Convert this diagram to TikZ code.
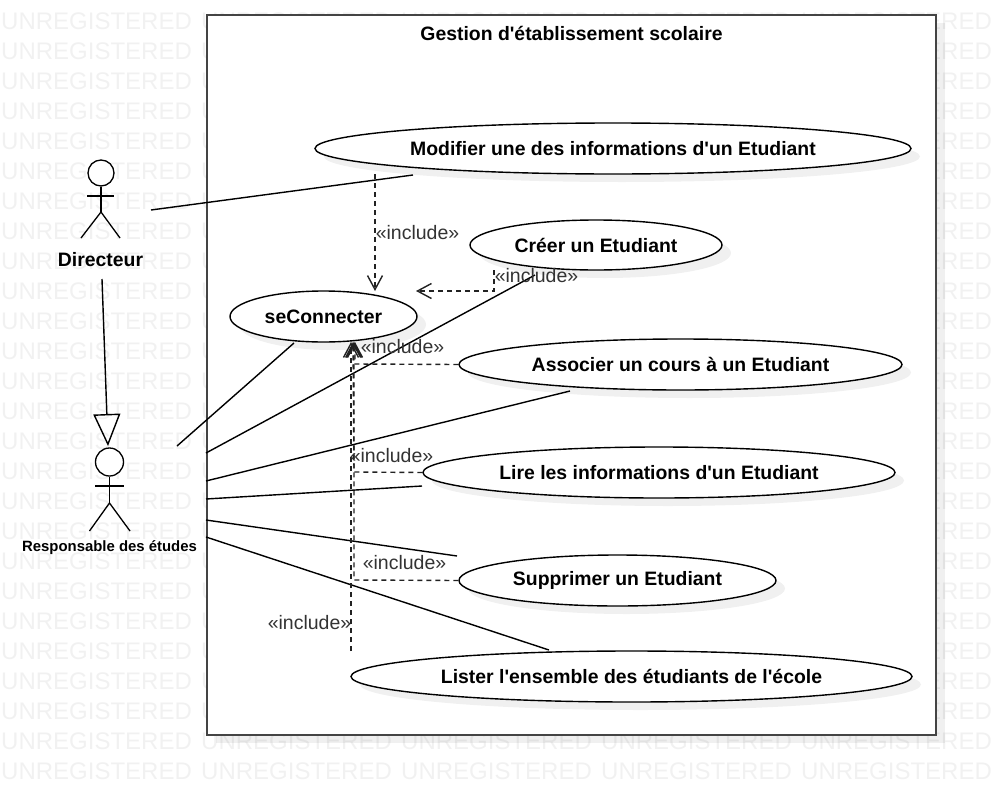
\documentclass[tikz,border=0pt]{standalone}
\usepackage{fontspec}
\setmainfont{Liberation Sans}
\newfontfamily\plainsans{Liberation Sans}
\usetikzlibrary{shapes.geometric,arrows.meta,shadows}
\definecolor{wm}{HTML}{F1F1F1}
\definecolor{framec}{HTML}{444444}
\definecolor{inc}{HTML}{333333}
\definecolor{dashc}{HTML}{222222}
\tikzset{
  x=1pt,y=-1pt,
  softshadow/.style={drop shadow={shadow xshift=9pt,shadow yshift=-8pt,fill=black,opacity=.06}},
  boldtxt/.style={font=\plainsans\fontsize{19.4}{21}\selectfont\bfseries},
  usecase/.style={ellipse,draw=black,line width=1.4pt,fill=white,inner sep=0pt,softshadow,boldtxt},
  assoc/.style={draw=black,line width=1.4pt},
  limb/.style={draw=black,line width=1.3pt},
  incl/.style={draw=dashc,line width=1.4pt,dash pattern=on 5pt off 4pt,-{Straight Barb[length=14pt,width=15pt,line width=1.4pt]}},
  incltxt/.style={font=\plainsans\fontsize{19.5}{21}\selectfont,text=inc,inner sep=0pt},
  wmtxt/.style={font=\plainsans\fontsize{24}{26}\selectfont,text=wm,inner sep=0pt,anchor=west},
}
\begin{document}
\begin{tikzpicture}
\useasboundingbox (0,0) rectangle (996,795);
% watermark
\foreach \r in {0,...,25}{
  \foreach \c in {0,...,4}{
    \node[wmtxt] (wm-\r-\c) at ({1+200*\c},{21+30*\r}) {UNREGISTERED};
  }
}
% system frame
\node[draw=framec,fill=white,line width=2pt,minimum width=729pt,minimum height=720pt,inner sep=0pt,softshadow] (sys) at (571.5,375) {};
\node[boldtxt,inner sep=0pt] (title) at (571.5,33.5) {Gestion d'établissement scolaire};
% use cases
\node[usecase,minimum width=596pt,minimum height=51pt] (modif) at (613,148.5) {Modifier une des informations d'un Etudiant};
\node[usecase,minimum width=252pt,minimum height=50pt] (creer) at (596,245) {Créer un Etudiant};
\node[usecase,minimum width=187pt,minimum height=51pt] (conn) at (323.5,316.5) {seConnecter};
\node[usecase,minimum width=443pt,minimum height=51pt] (assoc) at (680.5,364.5) {Associer un cours à un Etudiant};
\node[usecase,minimum width=472pt,minimum height=51pt] (lire) at (659,472.5) {Lire les informations d'un Etudiant};
\node[usecase,minimum width=317pt,minimum height=51pt] (suppr) at (617.5,580.5) {Supprimer un Etudiant};
\node[usecase,minimum width=561pt,minimum height=51pt] (lister) at (631.5,676.5) {Lister l'ensemble des étudiants de l'école};
% actor Directeur
\node[circle,limb,fill=white,minimum size=26pt,inner sep=0pt] (headA) at (101,173) {};
\coordinate (hipA) at (101,212);
\coordinate (armAl) at (87,196);
\coordinate (armAr) at (114,196);
\coordinate (legAl) at (81,238);
\coordinate (legAr) at (120,238);
\draw[limb] (headA.south) -- (hipA);
\draw[limb] (armAl) -- (armAr);
\draw[limb] (legAl) -- (hipA) -- (legAr);
\node[boldtxt,inner sep=0pt] (dirlabel) at (100.5,259.5) {Directeur};
% actor Responsable
\node[circle,limb,fill=white,minimum size=28pt,inner sep=0pt] (headB) at (109.5,462) {};
\coordinate (hipB) at (109.5,503);
\coordinate (armBl) at (95,486);
\coordinate (armBr) at (124,486);
\coordinate (legBl) at (89.5,531);
\coordinate (legBr) at (130,531);
\draw[limb] (headB.south) -- (hipB);
\draw[limb] (armBl) -- (armBr);
\draw[limb] (legBl) -- (hipB) -- (legBr);
\node[font=\plainsans\fontsize{14.9}{16}\selectfont\bfseries,inner sep=0pt] (resplabel) at (109.5,548) {Responsable des études};
% generalisation
\coordinate (genstart) at (102,279);
\coordinate (gentip) at (108,446);
\draw[assoc,-{Triangle[open,length=32pt,width=27pt,line width=1.4pt]}] (genstart) -- (gentip);
% associations
\coordinate (dirA) at (151,210);
\coordinate (modA) at (413,175);
\draw[assoc] (dirA) -- (modA);
\coordinate (r1) at (177,446); \coordinate (connA) at (294,343);
\coordinate (r2) at (206,453); \coordinate (creerA) at (535,275);
\coordinate (r3) at (206,481); \coordinate (assocA) at (570,391);
\coordinate (r4) at (206,499); \coordinate (lireA) at (422,486);
\coordinate (r5) at (206,520); \coordinate (supprA) at (457,556);
\coordinate (r6) at (206,537); \coordinate (listerA) at (549,650);
\draw[assoc] (r1) -- (connA);
\draw[assoc] (r2) -- (creerA);
\draw[assoc] (r3) -- (assocA);
\draw[assoc] (r4) -- (lireA);
\draw[assoc] (r5) -- (supprA);
\draw[assoc] (r6) -- (listerA);
% includes
\coordinate (i1s) at (375,174); \coordinate (i1e) at (375,291);
\coordinate (i2s) at (494,270); \coordinate (i2m) at (494,291); \coordinate (i2e) at (416,291);
\coordinate (i3e) at (355,342); \coordinate (i3m) at (355,364);
\coordinate (i4e) at (353,342); \coordinate (i4m) at (354,472);
\coordinate (i5e) at (354,342); \coordinate (i5m) at (354,580);
\coordinate (i6s) at (351,651); \coordinate (i6e) at (351,342);
\draw[incl] (i1s) -- (i1e);
\draw[incl] (i2s) -- (i2m) -- (i2e);
\draw[incl] (assoc.west) -- (i3m) -- (i3e);
\draw[incl] (lire.west) -- (i4m) -- (i4e);
\draw[incl] (suppr.west) -- (i5m) -- (i5e);
\draw[incl] (i6s) -- (i6e);
\node[incltxt] (l1) at (417.5,233) {«include»};
\node[incltxt] (l2) at (536.5,275.5) {«include»};
\node[incltxt] (l3) at (402.5,346.5) {«include»};
\node[incltxt] (l4) at (391.5,455.5) {«include»};
\node[incltxt] (l5) at (404.5,562.5) {«include»};
\node[incltxt] (l6) at (309.5,623) {«include»};
\end{tikzpicture}
\end{document}
